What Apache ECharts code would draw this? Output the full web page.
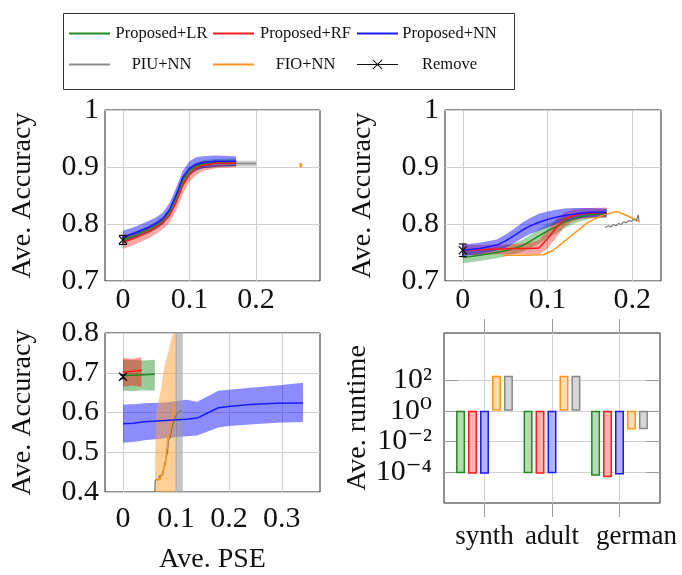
<!DOCTYPE html>
<html>
<head>
<meta charset="utf-8">
<script src="https://cdn.jsdelivr.net/npm/echarts@6/dist/echarts.min.js"></script>
<style>
html, body { margin: 0; padding: 0; background: #fff; }
#chart { width: 682px; height: 575px; }
</style>
</head>
<body>
<div id="chart"></div>
<script>
// legend entries in reading order (3 columns x 2 rows)
var legendNames = ['Proposed+LR', 'Proposed+RF', 'Proposed+NN', 'PIU+NN', 'FIO+NN', 'Remove'];

// top-left panel
var tlX = [0, 0.02, 0.04, 0.05, 0.06, 0.07, 0.08, 0.09, 0.1, 0.11, 0.12, 0.14, 0.17];
var tlBlue = [0.777, 0.785, 0.795, 0.801, 0.809, 0.825, 0.851, 0.882, 0.898, 0.905, 0.908, 0.91, 0.91];
var tlBlueHi = [0.788, 0.796, 0.806, 0.812, 0.82, 0.837, 0.864, 0.894, 0.91, 0.917, 0.919, 0.92, 0.919];
var tlBlueLo = [0.768, 0.776, 0.786, 0.792, 0.8, 0.814, 0.838, 0.868, 0.886, 0.894, 0.898, 0.901, 0.902];
var tlRed = [0.768, 0.777, 0.788, 0.795, 0.803, 0.815, 0.838, 0.868, 0.887, 0.898, 0.903, 0.906, 0.907];
var tlRedHi = [0.778, 0.786, 0.796, 0.803, 0.811, 0.826, 0.85, 0.88, 0.897, 0.905, 0.909, 0.911, 0.911];
var tlRedLo = [0.756, 0.765, 0.776, 0.783, 0.791, 0.802, 0.824, 0.853, 0.874, 0.886, 0.893, 0.898, 0.9];
var tlGreen = [0.772, 0.781, 0.791, 0.798, 0.806, 0.821, 0.846, 0.876, 0.893, 0.901, 0.905, 0.907, 0.908];
var tlGreenHi = [0.779, 0.788, 0.798, 0.805, 0.813, 0.828, 0.853, 0.883, 0.9, 0.908, 0.912, 0.914, 0.915];
var tlGreenLo = [0.765, 0.774, 0.784, 0.791, 0.799, 0.814, 0.839, 0.869, 0.886, 0.894, 0.898, 0.9, 0.901];
var tlGrayX = [0, 0.02, 0.04, 0.05, 0.06, 0.07, 0.08, 0.09, 0.1, 0.11, 0.12, 0.14, 0.17, 0.2];
var tlGray = [0.772, 0.781, 0.79, 0.797, 0.805, 0.82, 0.845, 0.875, 0.892, 0.9, 0.903, 0.905, 0.906, 0.906];
var tlGrayHi = [0.777, 0.786, 0.795, 0.802, 0.81, 0.825, 0.85, 0.88, 0.897, 0.905, 0.908, 0.91, 0.911, 0.911];
var tlGrayLo = [0.767, 0.776, 0.785, 0.792, 0.8, 0.815, 0.84, 0.87, 0.887, 0.895, 0.898, 0.9, 0.901, 0.901];
var tlOrange = [0.267, 0.903, 0.004];   // x, y, error
var tlRemove = [0, 0.772, 0.008];

// top-right panel
var trX = [0, 0.02, 0.04, 0.05, 0.06, 0.07, 0.08, 0.09, 0.1, 0.11, 0.12, 0.13, 0.14, 0.15, 0.17];
var trBlue = [0.754, 0.757, 0.763, 0.77, 0.779, 0.789, 0.797, 0.803, 0.808, 0.812, 0.815, 0.817, 0.819, 0.82, 0.82];
var trBlueHi = [0.764, 0.767, 0.773, 0.781, 0.791, 0.802, 0.811, 0.818, 0.822, 0.825, 0.827, 0.828, 0.828, 0.828, 0.827];
var trBlueLo = [0.744, 0.747, 0.753, 0.758, 0.766, 0.775, 0.783, 0.788, 0.794, 0.8, 0.804, 0.807, 0.81, 0.812, 0.813];
var trGreen = [0.741, 0.745, 0.75, 0.753, 0.757, 0.762, 0.77, 0.779, 0.788, 0.795, 0.803, 0.809, 0.813, 0.816, 0.819];
var trGreenHi = [0.751, 0.755, 0.759, 0.762, 0.766, 0.772, 0.781, 0.791, 0.8, 0.807, 0.813, 0.818, 0.821, 0.823, 0.825];
var trGreenLo = [0.731, 0.735, 0.74, 0.743, 0.747, 0.751, 0.758, 0.766, 0.775, 0.783, 0.792, 0.8, 0.805, 0.809, 0.812];
var trRed = [0.754, 0.755, 0.756, 0.756, 0.757, 0.757, 0.757, 0.758, 0.774, 0.793, 0.808, 0.815, 0.818, 0.819, 0.82];
var trRedHi = [0.763, 0.763, 0.764, 0.764, 0.765, 0.766, 0.767, 0.772, 0.79, 0.808, 0.82, 0.825, 0.827, 0.828, 0.829];
var trRedLo = [0.745, 0.746, 0.747, 0.747, 0.747, 0.747, 0.747, 0.746, 0.757, 0.776, 0.795, 0.805, 0.809, 0.81, 0.811];
var trOrange = [[0.048, 0.745], [0.07, 0.745], [0.095, 0.746], [0.107, 0.754], [0.117, 0.766], [0.127, 0.778],
  [0.137, 0.79], [0.146, 0.801], [0.157, 0.81], [0.166, 0.816], [0.182, 0.822], [0.195, 0.814], [0.209, 0.804]];
var trGray = [[0.168, 0.794], [0.172, 0.797], [0.175, 0.795], [0.178, 0.799], [0.181, 0.797], [0.184, 0.801],
  [0.187, 0.799], [0.19, 0.804], [0.193, 0.802], [0.196, 0.806], [0.199, 0.805], [0.202, 0.808], [0.205, 0.806],
  [0.207, 0.816], [0.208, 0.806]];
var trRemove = [0, 0.754, 0.011];

// bottom-left panel
var blX = [0, 0.02, 0.04, 0.08, 0.12, 0.14, 0.18, 0.2, 0.24, 0.29, 0.34];
var blBlue = [0.572, 0.573, 0.577, 0.58, 0.583, 0.586, 0.612, 0.615, 0.62, 0.623, 0.624];
var blBlueHi = [0.62, 0.621, 0.623, 0.625, 0.632, 0.627, 0.655, 0.657, 0.662, 0.668, 0.675];
var blBlueLo = [0.524, 0.526, 0.53, 0.535, 0.54, 0.542, 0.562, 0.566, 0.57, 0.574, 0.576];
var blRedX = [0, 0.018, 0.035];
var blRed = [0.701, 0.704, 0.706];
var blRedHi = [0.737, 0.735, 0.739];
var blRedLo = [0.665, 0.668, 0.664];
var blGreenX = [0, 0.02, 0.04, 0.06];
var blGreen = [0.693, 0.694, 0.695, 0.696];
var blGreenHi = [0.733, 0.732, 0.731, 0.733];
var blGreenLo = [0.655, 0.654, 0.656, 0.655];
var blOrangeY = [0.4, 0.5, 0.6, 0.62, 0.66, 0.7, 0.72, 0.76, 0.8];
var blOrangeL = [0.06, 0.061, 0.063, 0.066, 0.072, 0.076, 0.079, 0.087, 0.094];
var blOrangeR = [0.1, 0.1, 0.1, 0.1, 0.1, 0.1, 0.1, 0.1, 0.1];
var blGrayY = [0.4, 0.8];
var blGrayL = [0.099, 0.099];
var blGrayR = [0.113, 0.113];
var blOrange = [[0.064, 0.43], [0.07, 0.432], [0.074, 0.445], [0.077, 0.46], [0.08, 0.47], [0.082, 0.5],
  [0.085, 0.535], [0.088, 0.55], [0.091, 0.575], [0.094, 0.59], [0.098, 0.623]];
var blGray = [[0.06, 0.4], [0.061, 0.43], [0.067, 0.432], [0.069, 0.44], [0.075, 0.443], [0.077, 0.46],
  [0.08, 0.465], [0.082, 0.49], [0.084, 0.5], [0.086, 0.53], [0.09, 0.54], [0.092, 0.56], [0.095, 0.575],
  [0.099, 0.59], [0.105, 0.6], [0.111, 0.605]];
var blRemove = [0, 0.69, 0.005];

// bottom-right panel: runtimes
var datasets = ['synth', 'adult', 'german'];
var runLR = [8.7e-5, 8.7e-5, 5.9e-5];
var runRF = [7.9e-5, 7.9e-5, 4.8e-5];
var runNN = [7.9e-5, 8.7e-5, 7.1e-5];
var runFIO = [190, 190, 0.06];
var runPIU = [190, 190, 0.063];

var FONT = "'Liberation Serif', 'DejaVu Serif', serif";
var C = { green: '#1f8a1f', red: '#ff1a1a', blue: '#1a1aff', gray: '#8c8c8c', orange: '#ff9520', black: '#111' };
var crossPath = 'path://M0,1L1,0L5,4L9,0L10,1L6,5L10,9L9,10L5,6L1,10L0,9L4,5Z';
var removeIcon = 'path://M0,4.4H41V5.6H0Z M15.5,0.7L16.2,0L20.5,4.3L24.8,0L25.5,0.7L21.2,5L25.5,9.3L24.8,10L20.5,5.7L16.2,10L15.5,9.3L19.8,5Z';
var SUP = { '0': '\u2070', '1': '\u00b9', '2': '\u00b2', '3': '\u00b3', '4': '\u2074', '5': '\u2075', '6': '\u2076', '-': '\u207b' };

function zip(xs, ys) {
  return xs.map(function (x, i) { return [x, ys[i]]; });
}

function line(g, name, data, color, width) {
  return {
    type: 'line', name: name, xAxisIndex: g, yAxisIndex: g, data: data, z: 3,
    symbol: 'none', showSymbol: false, silent: true,
    lineStyle: { color: color, width: width || 1.5 }, itemStyle: { color: color }
  };
}

function removeMark(g, pt) {
  return {
    type: 'line', name: 'Remove', xAxisIndex: g, yAxisIndex: g, data: [[pt[0], pt[1]]], z: 4,
    symbol: crossPath, symbolSize: 9, showSymbol: true, silent: true,
    lineStyle: { color: C.black, width: 1 }, itemStyle: { color: C.black }
  };
}

// filled band between lo and hi along x
function band(g, xs, lo, hi, color, op) {
  return {
    type: 'custom', xAxisIndex: g, yAxisIndex: g, silent: true, z: 1,
    data: [[xs[0], lo[0]]],
    renderItem: function (params, api) {
      var pts = [];
      for (var i = 0; i < xs.length; i++) pts.push(api.coord([xs[i], hi[i]]));
      for (var j = xs.length - 1; j >= 0; j--) pts.push(api.coord([xs[j], lo[j]]));
      return { type: 'polygon', shape: { points: pts }, style: { fill: color, opacity: op } };
    }
  };
}

// filled band between left and right along y
function vband(g, ys, left, right, color, op) {
  return {
    type: 'custom', xAxisIndex: g, yAxisIndex: g, silent: true, z: 1,
    data: [[left[0], ys[0]]],
    renderItem: function (params, api) {
      var pts = [];
      for (var i = 0; i < ys.length; i++) pts.push(api.coord([left[i], ys[i]]));
      for (var j = ys.length - 1; j >= 0; j--) pts.push(api.coord([right[j], ys[j]]));
      return { type: 'polygon', shape: { points: pts }, style: { fill: color, opacity: op } };
    }
  };
}

function errBar(g, pt, color, capW, lw) {
  return {
    type: 'custom', xAxisIndex: g, yAxisIndex: g, silent: true, z: 4,
    data: [pt],
    renderItem: function (params, api) {
      var x = api.value(0), y = api.value(1), e = api.value(2);
      var top = api.coord([x, y + e]), bot = api.coord([x, y - e]);
      var st = { stroke: color, lineWidth: lw };
      var kids = [{ type: 'line', shape: { x1: top[0], y1: top[1], x2: bot[0], y2: bot[1] }, style: st }];
      if (capW) {
        kids.push({ type: 'line', shape: { x1: top[0] - capW, y1: top[1], x2: top[0] + capW, y2: top[1] }, style: st });
        kids.push({ type: 'line', shape: { x1: bot[0] - capW, y1: bot[1], x2: bot[0] + capW, y2: bot[1] }, style: st });
      }
      return { type: 'group', children: kids };
    }
  };
}

function bars(vals, fill, stroke) {
  return {
    type: 'bar', xAxisIndex: 3, yAxisIndex: 3, data: zip([0, 1, 2], vals), silent: true,
    barWidth: 9, barGap: '33%', z: 2,
    itemStyle: { color: fill, borderColor: stroke, borderWidth: 1.5 }
  };
}

var labelStyle = { fontFamily: FONT, fontSize: 30, color: C.black };
var nameStyle = { fontFamily: FONT, fontSize: 28, color: C.black };
var gridLine = { show: true, lineStyle: { color: '#d0d0d0', width: 1 } };

function xVal(g, min, max, ticks, margin) {
  return {
    type: 'value', gridIndex: g, min: min, max: max,
    axisLine: { show: false, onZero: false }, axisTick: { show: false, customValues: ticks },
    axisLabel: Object.assign({ customValues: ticks, margin: margin, formatter: function (v) { return String(v); } }, labelStyle),
    splitLine: gridLine
  };
}

function yVal(g, min, max) {
  return {
    type: 'value', gridIndex: g, min: min, max: max, interval: 0.1,
    axisLine: { show: false, onZero: false }, axisTick: { show: false },
    axisLabel: Object.assign({ margin: 6, formatter: function (v) {
      var r = Math.round(v * 10) / 10; return r === 1 ? '1' : r.toFixed(1);
    } }, labelStyle),
    splitLine: gridLine,
    name: 'Ave. Accuracy', nameLocation: 'middle', nameGap: 68, nameTextStyle: nameStyle
  };
}

// one legend component per entry so every entry sits in its own fixed column
var legendCols = [69, 213, 357];
var legendRows = [25, 56];
var legends = legendNames.map(function (n, i) {
  var isRemove = n === 'Remove';
  return {
    data: [{ name: n, icon: isRemove ? removeIcon : 'rect' }],
    left: legendCols[i % 3], top: legendRows[Math.floor(i / 3)], orient: 'horizontal', padding: 0,
    itemWidth: 41, itemHeight: isRemove ? 10 : 2, selectedMode: false,
    formatter: function (s) { return '{a|' + s + '}'; },
    textStyle: {
      fontFamily: FONT, fontSize: 16.5, color: C.black,
      rich: { a: { width: 93, align: 'center', fontFamily: FONT, fontSize: 16.5, color: C.black } }
    }
  };
});

var logTicks = [1e-4, 1e-2, 1, 100];
var tickGray = { color: '#9a9a9a', width: 1 };

var xAxes = [
  xVal(0, -0.027, 0.296, [0, 0.1, 0.2], 4),
  xVal(1, -0.021, 0.234, [0, 0.1, 0.2], 4),
  Object.assign(xVal(2, -0.034, 0.372, [0, 0.1, 0.2, 0.3], 12),
    { name: 'Ave. PSE', nameLocation: 'middle', nameGap: 54, nameTextStyle: nameStyle }),
  {
    type: 'value', gridIndex: 3, min: -0.6, max: 2.6,
    axisLine: { show: false, onZero: false },
    axisTick: { show: true, inside: false, length: 14, customValues: [0, 1, 2], lineStyle: tickGray },
    axisLabel: { customValues: [0, 1, 2], margin: 20, fontFamily: FONT, fontSize: 27, color: C.black,
      formatter: function (v) {
        return v === 2 ? '{g|' + datasets[v] + '}' : datasets[v];
      },
      rich: { g: { fontFamily: FONT, fontSize: 27, color: C.black, padding: [0, 0, 0, 34] } } },
    splitLine: gridLine
  },
  {
    type: 'value', gridIndex: 3, min: -0.6, max: 2.6, position: 'top',
    axisLine: { show: false, onZero: false },
    axisTick: { show: true, inside: false, length: 14, customValues: [0, 1, 2], lineStyle: tickGray },
    axisLabel: { show: false }, splitLine: { show: false }
  }
];

var yAxes = [
  yVal(0, 0.7, 1),
  yVal(1, 0.7, 1),
  yVal(2, 0.4, 0.8),
  {
    type: 'log', gridIndex: 3, min: 1e-6, max: 1.15e5,
    axisLine: { show: false, onZero: false },
    axisTick: { show: true, inside: true, length: 14, customValues: logTicks, lineStyle: tickGray },
    axisLabel: {
      customValues: logTicks, margin: 12, hideOverlap: false, lineHeight: 22,
      fontFamily: FONT, fontSize: 30, color: C.black,
      formatter: function (v) {
        var e = String(Math.round(Math.log10(v)));
        return '10' + e.split('').map(function (ch) { return SUP[ch]; }).join('');
      }
    },
    splitLine: gridLine,
    name: 'Ave. runtime', nameLocation: 'middle', nameGap: 62, nameTextStyle: nameStyle
  },
  {
    type: 'log', gridIndex: 3, min: 1e-6, max: 1.15e5, position: 'right',
    axisLine: { show: false, onZero: false },
    axisTick: { show: true, inside: true, length: 14, customValues: logTicks, lineStyle: tickGray },
    axisLabel: { show: false }, splitLine: { show: false }
  }
];

var series = [
  line(0, 'PIU+NN', zip(tlGrayX, tlGray), C.gray),
  line(0, 'Proposed+LR', zip(tlX, tlGreen), C.green),
  line(0, 'Proposed+RF', zip(tlX, tlRed), C.red),
  line(0, 'Proposed+NN', zip(tlX, tlBlue), C.blue),
  removeMark(0, tlRemove),
  line(1, 'FIO+NN', trOrange, C.orange),
  line(1, 'PIU+NN', trGray, '#777', 1.2),
  line(1, 'Proposed+LR', zip(trX, trGreen), C.green),
  line(1, 'Proposed+RF', zip(trX, trRed), C.red),
  line(1, 'Proposed+NN', zip(trX, trBlue), C.blue),
  removeMark(1, trRemove),
  line(2, 'PIU+NN', blGray, '#777', 1.2),
  line(2, 'FIO+NN', blOrange, C.orange),
  line(2, 'Proposed+LR', zip(blGreenX, blGreen), C.green),
  line(2, 'Proposed+RF', zip(blRedX, blRed), C.red),
  line(2, 'Proposed+NN', zip(blX, blBlue), C.blue),
  removeMark(2, blRemove),
  // uncertainty bands
  band(0, tlGrayX, tlGrayLo, tlGrayHi, '#999999', 0.5),
  band(0, tlX, tlGreenLo, tlGreenHi, '#008000', 0.35),
  band(0, tlX, tlRedLo, tlRedHi, '#ff0000', 0.35),
  band(0, tlX, tlBlueLo, tlBlueHi, '#0000ff', 0.45),
  band(1, trX, trGreenLo, trGreenHi, '#008000', 0.35),
  band(1, trX, trRedLo, trRedHi, '#ff0000', 0.35),
  band(1, trX, trBlueLo, trBlueHi, '#0000ff', 0.45),
  band(2, blX, blBlueLo, blBlueHi, '#0000ff', 0.45),
  band(2, blGreenX, blGreenLo, blGreenHi, '#008000', 0.4),
  band(2, blRedX, blRedLo, blRedHi, '#ff0000', 0.4),
  vband(2, blOrangeY, blOrangeL, blOrangeR, '#ffa030', 0.5),
  vband(2, blGrayY, blGrayL, blGrayR, '#a0a0a0', 0.6),
  // error bars
  errBar(0, tlOrange, C.orange, 0, 2.5),
  errBar(0, tlRemove, C.black, 4, 1.2),
  errBar(1, trRemove, C.black, 4, 1.2),
  errBar(2, blRemove, C.black, 3, 1.2),
  // runtime bars
  bars(runLR, '#b5dbb5', C.green),
  bars(runRF, '#ffb3b3', C.red),
  bars(runNN, '#b3b3ff', C.blue),
  bars(runFIO, '#ffdcb0', C.orange),
  bars(runPIU, '#d6d6d6', '#888888')
];

var frame = { show: true, borderColor: '#222', borderWidth: 1, backgroundColor: 'transparent' };

var option = {
  animation: false,
  backgroundColor: '#fff',
  graphic: [{
    type: 'rect', left: 61, top: 11, silent: true,
    shape: { x: 0, y: 0, width: 451, height: 76 },
    style: { fill: 'none', stroke: '#333', lineWidth: 1 }
  }],
  legend: legends,
  grid: [
    Object.assign({ left: 105, top: 110, width: 215, height: 171 }, frame),
    Object.assign({ left: 445, top: 110, width: 216, height: 171 }, frame),
    Object.assign({ left: 105, top: 333, width: 215, height: 170 }, frame),
    Object.assign({ left: 444, top: 333, width: 216, height: 170 }, frame)
  ],
  xAxis: xAxes,
  yAxis: yAxes,
  series: series
};

var chart = echarts.init(document.getElementById('chart'), null, { renderer: 'canvas' });
chart.setOption(option);
</script>
</body>
</html>
